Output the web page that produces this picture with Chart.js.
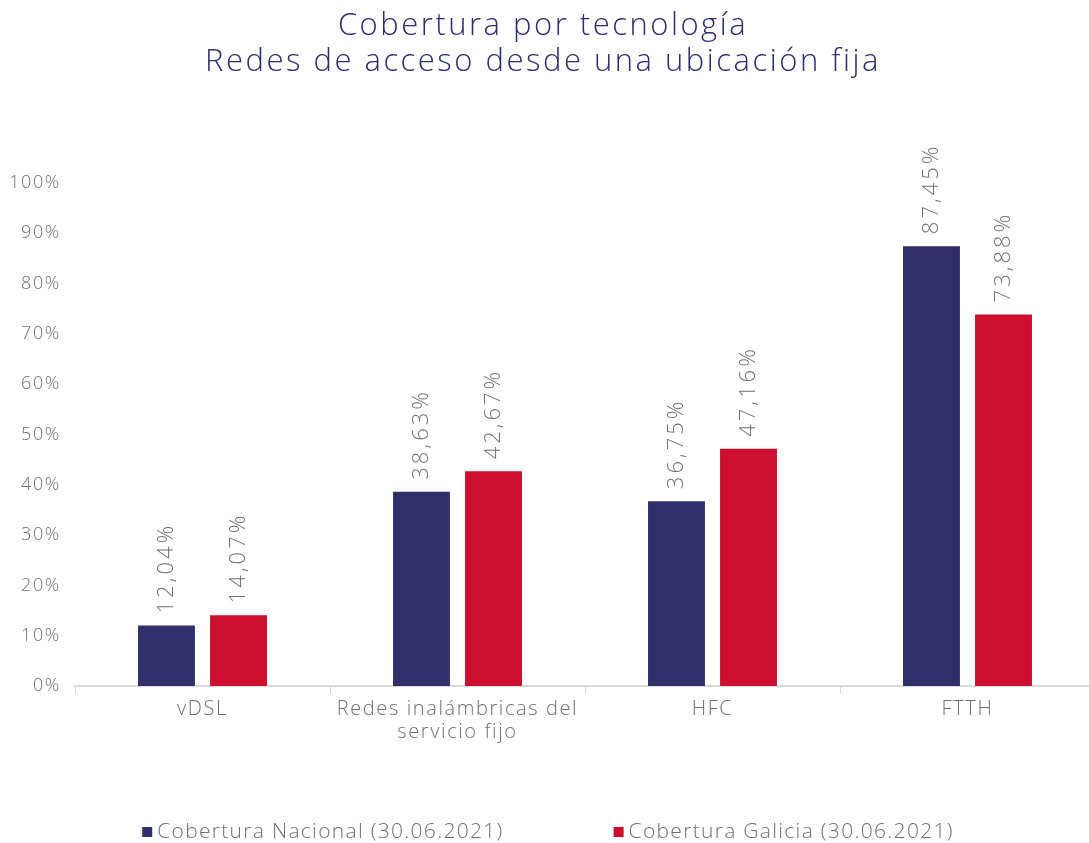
<!DOCTYPE html>
<html>
<head>
<meta charset="utf-8">
<script src="https://cdn.jsdelivr.net/npm/chart.js@4/dist/chart.umd.min.js"></script>
<style>
  html, body { margin: 0; padding: 0; background: #fff; overflow: hidden; }
</style>
</head>
<body>
<canvas id="chart" width="1100" height="843"></canvas>
<script>
// data
var categories = ["vDSL", ["Redes inalámbricas del", "servicio fijo"], "HFC", "FTTH"];
var nacional = [12.04, 38.63, 36.75, 87.45];
var galicia = [14.07, 42.67, 47.16, 73.88];
var seriesNames = ["Cobertura Nacional (30.06.2021)", "Cobertura Galicia (30.06.2021)"];
var titleLines = ["Cobertura por tecnología", "Redes de acceso desde una ubicación fija"];

var NAVY = "#312f69";
var RED = "#cc0f2f";
var GRAY = "#707070";
var FONT = "'Open Sans', 'Noto Sans', sans-serif";

function fmt(v) {
  return v.toFixed(2).replace(".", ",") + "%";
}

// the original font is wider, so open the letters up a bit
var spacing = {
  id: "spacing",
  beforeLayout: function (chart) { chart.ctx.letterSpacing = "1.6px"; },
  beforeDraw: function (chart) { chart.ctx.letterSpacing = "1.6px"; }
};

// value labels rotated above each bar
var barLabels = {
  id: "barLabels",
  afterDatasetsDraw: function (chart) {
    var ctx = chart.ctx;
    ctx.save();
    ctx.letterSpacing = "3px";
    ctx.fillStyle = GRAY;
    ctx.font = "300 22px " + FONT;
    ctx.textAlign = "left";
    ctx.textBaseline = "middle";
    chart.data.datasets.forEach(function (ds, i) {
      chart.getDatasetMeta(i).data.forEach(function (bar, j) {
        ctx.save();
        ctx.translate(bar.x, bar.y - 12);
        ctx.rotate(-Math.PI / 2);
        ctx.fillText(fmt(ds.data[j]), 0, 0);
        ctx.restore();
      });
    });
    ctx.restore();
  }
};

// title and legend drawn by hand to match the original placement
var frame = {
  id: "frame",
  afterDraw: function (chart) {
    var ctx = chart.ctx;
    ctx.save();
    ctx.fillStyle = "#2e2d70";
    ctx.letterSpacing = "2.5px";
    ctx.font = "300 31px " + FONT;
    ctx.textAlign = "center";
    ctx.textBaseline = "middle";
    ctx.fillText(titleLines[0], 543, 26);
    ctx.fillText(titleLines[1], 543, 62);

    ctx.letterSpacing = "1.3px";
    ctx.font = "300 21px " + FONT;
    ctx.textAlign = "left";
    var gap = 110, box = 10;
    var widths = chart.data.datasets.map(function (ds) {
      return box + 5 + ctx.measureText(ds.label).width;
    });
    var total = widths[0] + gap + widths[1];
    var x = 548 - total / 2;
    var y = 832;
    chart.data.datasets.forEach(function (ds, i) {
      ctx.fillStyle = ds.backgroundColor;
      ctx.fillRect(x, y - 5, box, box);
      ctx.fillStyle = GRAY;
      ctx.fillText(ds.label, x + box + 5, y);
      x += widths[i] + gap;
    });
    ctx.restore();
  }
};

new Chart(document.getElementById("chart").getContext("2d"), {
  type: "bar",
  data: {
    labels: categories,
    datasets: [
      { label: seriesNames[0], data: nacional, backgroundColor: NAVY },
      { label: seriesNames[1], data: galicia, backgroundColor: RED }
    ]
  },
  options: {
    responsive: false,
    animation: false,
    categoryPercentage: 0.565,
    barPercentage: 0.79,
    layout: { padding: { top: 183, right: 5, bottom: 0, left: 0 } },
    plugins: {
      legend: { display: false },
      title: { display: false },
      tooltip: { enabled: false }
    },
    scales: {
      x: {
        afterFit: function (s) { s.height = 157; },
        border: { display: true, color: "#d9d9d9", width: 2 },
        grid: { offset: true, drawOnChartArea: false, drawTicks: true, tickLength: 8, color: "#d9d9d9" },
        ticks: { color: GRAY, padding: 4, font: { family: FONT, size: 20, weight: 300, lineHeight: 1.15 } }
      },
      y: {
        min: 0,
        max: 100,
        afterFit: function (s) { s.width = 75; },
        border: { display: false },
        grid: { display: false, drawTicks: false },
        ticks: {
          stepSize: 10,
          padding: 14,
          color: GRAY,
          font: { family: FONT, size: 18, weight: 300 },
          callback: function (v) { return v + "%"; }
        }
      }
    }
  },
  plugins: [spacing, barLabels, frame]
});
</script>
</body>
</html>
